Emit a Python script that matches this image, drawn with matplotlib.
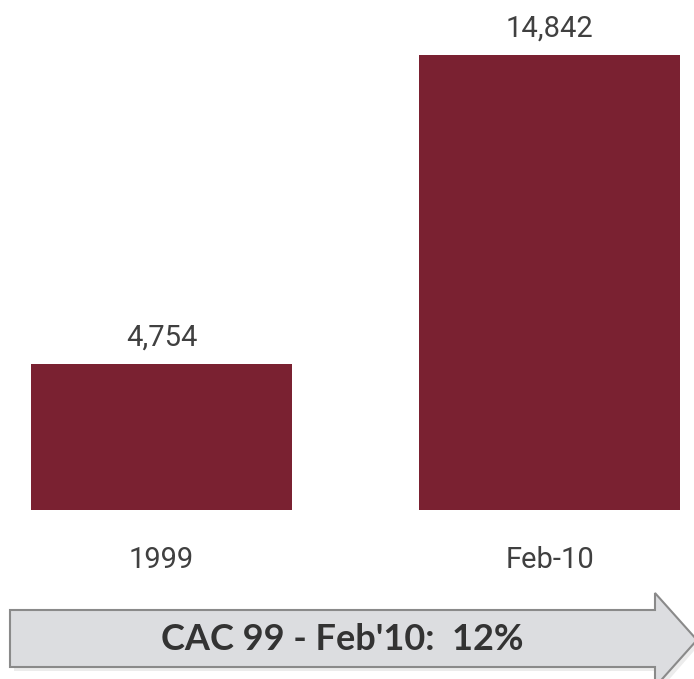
import matplotlib

matplotlib.use('Agg')
import matplotlib.pyplot as plt
from matplotlib.patches import Polygon

# данные
categories = ["1999", "Feb-10"]
values = [4754, 14842]
value_labels = ["4,754", "14,842"]
banner_text = "CAC 99 - Feb'10:  12%"

W, H = 694, 679
BAR_COLOR = "#7a2131"
TEXT_COLOR = "#404040"

fig = plt.figure(figsize=(W / 100, H / 100), dpi=100)

# оси со столбцами: низ столбцов на 510 px от верха
ax = fig.add_axes([0, (H - 510) / H, 1, 510 / H])
x = list(range(len(categories)))
ax.bar(x, values, width=0.673, color=BAR_COLOR, linewidth=0)
ax.set_xlim(-0.416, 1.372)
ax.set_ylim(0, 14842 * 510 / 455)
ax.axis("off")

for xi, v, lab in zip(x, values, value_labels):
    ax.annotate(lab, (xi, v), xytext=(0, 9), textcoords="offset points",
                ha="center", va="bottom", fontsize=21, family="Roboto",
                color=TEXT_COLOR)

# подписи категорий
for xi, cat in zip(x, categories):
    ax.annotate(cat, (xi, 0), xytext=(0, -50), textcoords="offset pixels",
                ha="center", va="center", fontsize=21, family="Roboto",
                color=TEXT_COLOR)

# стрелка внизу, в пиксельных координатах
ov = fig.add_axes([0, 0, 1, 1], zorder=-1)
ov.set_xlim(0, W)
ov.set_ylim(H, 0)
ov.axis("off")

shadow = Polygon([(14, 614), (659, 614), (659, 597), (700, 644), (659, 691),
                  (659, 671), (14, 671)], closed=True,
                 facecolor="#ececec", edgecolor="none")
ov.add_patch(shadow)
arrow = Polygon([(10, 610), (655, 610), (655, 593), (697, 640), (655, 687),
                 (655, 667), (10, 667)], closed=True,
                facecolor="#dcdde0", edgecolor="#8a8a8a", linewidth=1.5)
ov.add_patch(arrow)
ov.text(342, 640, banner_text, ha="center", va="center", fontsize=26,
        fontweight="bold", family="Lato", color="#333333")

fig.savefig("out.png", dpi=100)
